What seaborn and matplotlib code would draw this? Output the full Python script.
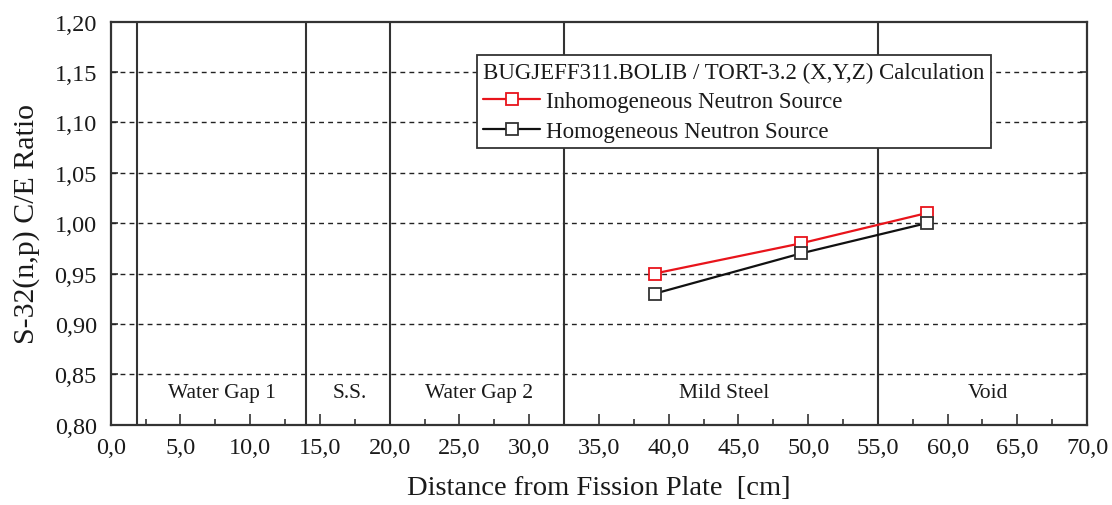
import matplotlib
matplotlib.use("Agg")
import matplotlib.pyplot as plt
from matplotlib.ticker import FuncFormatter, MultipleLocator
import seaborn as sns
import pandas as pd

# Measured positions and C/E ratios
distance = [39.0, 49.5, 58.5]
ce_inhomogeneous = [0.95, 0.98, 1.01]
ce_homogeneous = [0.93, 0.97, 1.00]

# Material zone boundaries and labels
zone_boundaries = [1.9, 14.0, 20.0, 32.5, 55.0]
zone_names = ["Water Gap 1", "S.S.", "Water Gap 2", "Mild Steel", "Void"]
zone_label_x = [8.0, 17.1, 26.4, 44.0, 62.9]

series_names = ["Inhomogeneous Neutron Source", "Homogeneous Neutron Source"]
legend_title = "BUGJEFF311.BOLIB / TORT-3.2 (X,Y,Z) Calculation"

sns.set_theme(style="white")
plt.rcParams["font.family"] = ["Liberation Serif", "DejaVu Serif"]
plt.rcParams["mathtext.fontset"] = "stix"

fig = plt.figure(figsize=(11.12, 5.06), dpi=100)
ax = fig.add_axes([0.0996, 0.159, 0.878, 0.796])

dark = "#333333"
text_color = "#1a1a1a"

# Horizontal dashed reference lines
for yv in [0.85, 0.90, 0.95, 1.00, 1.05, 1.10, 1.15]:
    ax.axhline(yv, color="#222222", lw=1.0, ls=(0, (3.5, 3)), zorder=1)

# Zone boundaries
for xb in zone_boundaries:
    ax.axvline(xb, color=dark, lw=1.5, zorder=2)

for name, xl in zip(zone_names, zone_label_x):
    ax.text(xl, 0.8315, name, ha="center", va="center", fontsize=15.5,
            color=text_color)

df = pd.DataFrame({
    "x": distance * 2,
    "y": ce_inhomogeneous + ce_homogeneous,
    "series": [series_names[0]] * 3 + [series_names[1]] * 3,
})

line_colors = {series_names[0]: "#e8141b", series_names[1]: "#111111"}
edge_colors = {series_names[0]: "#e8141b", series_names[1]: "#333333"}
for name in series_names:
    sub = df[df["series"] == name]
    sns.lineplot(data=sub, x="x", y="y", ax=ax, color=line_colors[name],
                 lw=1.6, marker="s", markersize=9, markerfacecolor="white",
                 markeredgecolor=edge_colors[name], markeredgewidth=1.3,
                 label=name, zorder=4)

ax.set_xlim(0, 70)
ax.set_ylim(0.80, 1.20)
ax.xaxis.set_major_locator(MultipleLocator(5))
ax.xaxis.set_minor_locator(MultipleLocator(2.5))
ax.yaxis.set_major_locator(MultipleLocator(0.05))

ax.xaxis.set_major_formatter(FuncFormatter(lambda v, p: f"{v:.1f}".replace(".", ",")))
ax.yaxis.set_major_formatter(FuncFormatter(lambda v, p: f"{v:.2f}".replace(".", ",")))

ax.tick_params(axis="x", which="major", direction="in", length=8, width=1.2,
               color=dark, labelsize=17.5, labelcolor=text_color, pad=9,
               top=False, bottom=True)
ax.tick_params(axis="x", which="minor", direction="in", length=4, width=1.2,
               color=dark, bottom=True, top=False)
ax.tick_params(axis="y", which="major", direction="in", length=5, width=1.2,
               color=dark, labelsize=17.5, labelcolor=text_color, pad=10,
               left=True, right=True)

for sp in ax.spines.values():
    sp.set_color(dark)
    sp.set_linewidth(1.6)

ax.set_xlabel("Distance from Fission Plate  [cm]", fontsize=20.5, labelpad=12.5,
              color=text_color)
ax.set_ylabel("S-32(n,p) C/E Ratio", fontsize=21.5, labelpad=10,
              color=text_color)

leg = ax.legend(title=legend_title, loc="upper left",
                bbox_to_anchor=(0.375, 0.917), borderaxespad=0,
                fontsize=16.5, title_fontsize=16.5, frameon=True,
                fancybox=False, edgecolor="#333333", framealpha=1,
                alignment="left", handlelength=2.5, handletextpad=0.25,
                labelspacing=0.38, borderpad=0.27)
leg.get_frame().set_linewidth(1.3)
leg.set_zorder(5)
for t in leg.get_texts():
    t.set_color(text_color)
leg.get_title().set_color(text_color)

fig.savefig("out.png", dpi=100, facecolor="white")
